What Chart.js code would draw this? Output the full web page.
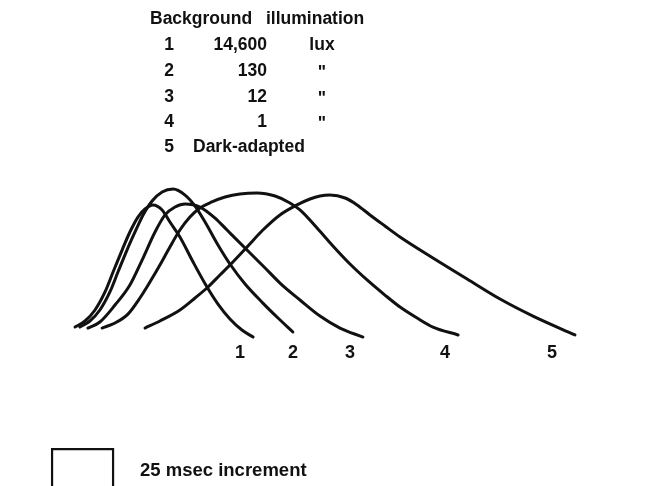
<!DOCTYPE html>
<html>
<head>
<meta charset="utf-8">
<script src="https://cdn.jsdelivr.net/npm/chart.js@4"></script>
<style>
  body { margin: 0; background: #fff; }
  #wrap { position: relative; width: 667px; height: 486px; overflow: hidden; }
  .t { position: absolute; transform: translateY(-50%); font-family: "Liberation Sans", Arial, sans-serif;
       font-weight: bold; font-size: 17px; line-height: 1; white-space: nowrap; color: #111; }
  .r { transform: translate(-100%, -50%); }
  .c { transform: translate(-50%, -50%); }
</style>
</head>
<body>
<div id="wrap">
  <canvas id="chart" width="667" height="486"></canvas>
</div>
<script>
// time after stimulus (msec) and relative response amplitude (% of largest peak)
const time1 = [0, 4.1, 8.2, 12.3, 15.6, 19.3, 22.5, 25.8, 28.7, 32.0, 35.7, 38.9, 43.0, 48.4, 54.1, 58.6, 63.5, 68.4, 73.0];
const amp1  = [2.1, 6.4, 14.2, 27.0, 41.1, 56.7, 69.5, 80.1, 85.8, 88.7, 85.1, 76.6, 66.0, 48.2, 30.5, 18.4, 7.8, 0, -5.0];

const time2 = [2.0, 6.1, 10.2, 14.3, 17.6, 21.3, 24.6, 27.9, 31.6, 35.7, 40.2, 45.1, 49.2, 53.3, 58.6, 63.5, 69.7, 77.0, 83.2, 89.3];
const amp2  = [2.1, 6.4, 14.2, 27.0, 41.1, 56.7, 69.5, 81.6, 91.5, 97.9, 100, 95.7, 87.9, 76.6, 60.3, 46.8, 32.6, 19.1, 8.5, -1.4];

const time3 = [5.3, 10.2, 16.4, 22.5, 27.5, 32.8, 36.9, 41.0, 45.1, 51.2, 57.4, 62.3, 70.5, 77.9, 84.0, 92.2, 100.4, 108.6, 118.0];
const amp3  = [1.4, 5.7, 17.7, 31.9, 49.6, 69.5, 81.6, 87.2, 89.4, 87.2, 79.4, 70.9, 56.7, 44.0, 33.3, 21.3, 9.9, 1.4, -5.0];

const time4 = [11.1, 16.4, 21.7, 26.6, 30.7, 34.8, 38.9, 43.0, 47.1, 51.2, 56.1, 61.5, 67.6, 74.6, 82.0, 88.1, 92.2, 99.2, 105.7, 112.7, 119.7, 127.0, 133.2, 140.2, 146.7, 157.0];
const amp4  = [1.4, 5.0, 11.3, 22.7, 34.0, 46.1, 58.9, 70.9, 80.1, 86.5, 90.8, 94.3, 96.5, 97.2, 95.0, 90.1, 85.1, 72.3, 59.6, 46.8, 35.5, 24.8, 16.3, 8.5, 2.1, -3.5];

const time5 = [28.7, 34.8, 43.0, 49.2, 54.5, 59.4, 63.5, 70.5, 77.0, 84.0, 91.0, 96.3, 100.4, 104.5, 110.7, 115.6, 120.9, 127.0, 133.2, 146.7, 160.7, 174.2, 187.7, 204.9];
const amp5  = [1.4, 6.4, 14.2, 22.7, 30.5, 39.0, 46.1, 58.9, 70.9, 81.6, 88.7, 92.9, 95.0, 95.7, 93.6, 88.7, 81.6, 73.8, 66.0, 51.1, 36.2, 22.0, 9.9, -3.5];

const curveLabels = ['1', '2', '3', '4', '5'];
const illumination = ['14,600', '130', '12', '1', 'Dark-adapted'];
const units = ['lux', '"', '"', '"', ''];
const scaleMsec = 25;

const wrap = document.getElementById('wrap');

function addText(text, x, y, cls, size) {
    const d = document.createElement('div');
    d.className = 't' + (cls ? ' ' + cls : '');
    d.style.left = x + 'px';
    d.style.top = y + 'px';
    if (size) d.style.fontSize = size + 'px';
    d.textContent = text;
    wrap.appendChild(d);
}

// legend block at the top
addText('Background', 150, 19, '', 17.5);
addText('illumination', 266, 19, '', 17.5);
const rowY = [45, 71, 97, 122, 147];
curveLabels.forEach((lab, i) => {
    addText(lab, 169, rowY[i], 'c', 17.5);
    if (illumination[i] === 'Dark-adapted') {
        addText(illumination[i], 193, rowY[i], '', 17.5);
    } else {
        addText(illumination[i], 267, rowY[i], 'r', 17.5);
    }
    if (units[i]) addText(units[i], 322, rowY[i] + (units[i] === '"' ? 2 : 0), 'c', 17.5);
});

// scale box with its note
const scaleBoxPlugin = {
    id: 'scaleBox',
    afterDraw(chart) {
        const xs = chart.scales.x, ys = chart.scales.y;
        const x0 = xs.getPixelForValue(-9.4);
        const x1 = xs.getPixelForValue(-9.4 + scaleMsec);
        const yTop = ys.getPixelForValue(-84.4);
        const yBot = yTop + (x1 - x0);
        const c = chart.ctx;
        c.save();
        c.strokeStyle = '#111';
        c.lineWidth = 2.2;
        c.beginPath();
        c.moveTo(x0, yBot);
        c.lineTo(x0, yTop);
        c.lineTo(x1, yTop);
        c.lineTo(x1, yBot);
        c.stroke();
        c.restore();
    }
};

const series = [
    [time1, amp1], [time2, amp2], [time3, amp3], [time4, amp4], [time5, amp5]
];

const chart = new Chart(document.getElementById('chart'), {
    type: 'line',
    data: {
        datasets: series.map((s, i) => ({
            label: curveLabels[i],
            data: s[0].map((t, k) => ({ x: t, y: s[1][k] })),
            borderColor: '#111',
            borderWidth: 3,
            borderCapStyle: 'round',
            borderJoinStyle: 'round',
            pointRadius: 0,
            cubicInterpolationMode: 'monotone',
            fill: false
        }))
    },
    options: {
        responsive: false,
        animation: false,
        devicePixelRatio: 1,
        layout: { padding: 0 },
        plugins: {
            legend: { display: false },
            tooltip: { enabled: false }
        },
        scales: {
            x: { type: 'linear', display: false, min: -30.74, max: 242.62 },
            y: { type: 'linear', display: false, min: -110.6, max: 234.0 }
        }
    },
    plugins: [scaleBoxPlugin]
});

// curve numbers under the traces
const labelX = [240, 293, 350, 445, 552];
curveLabels.forEach((lab, i) => addText(lab, labelX[i], 352, 'c', 18));

addText('25 msec increment', 140, 470, '', 18.5);
</script>
</body>
</html>
